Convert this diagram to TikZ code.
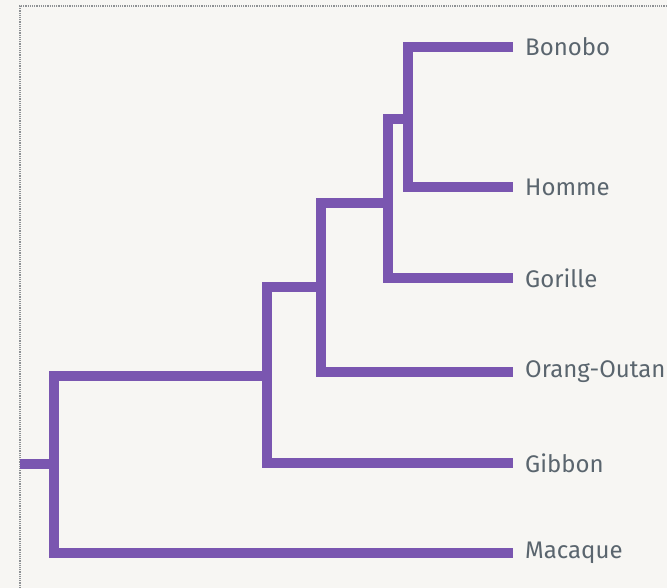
\documentclass[tikz,border=0pt]{standalone}
\usepackage{fontspec}
\setmainfont{Fira Sans}
\definecolor{branch}{HTML}{7A56B0}
\definecolor{labelgray}{HTML}{5A656E}
\definecolor{paper}{HTML}{F7F6F3}
\definecolor{frame}{HTML}{8E9194}
\begin{document}
\begin{tikzpicture}[x=1pt,y=-1pt,
  branchline/.style={draw=branch,line width=10pt,line cap=butt,line join=miter},
  taxon/.style={anchor=west,text=labelgray,font=\fontsize{24}{26}\selectfont,inner sep=0pt}]
  % page and frame
  \fill[paper] (0,0) rectangle (667,588);
  \useasboundingbox (0,0) rectangle (667,588);
  \draw[frame,line width=1.2pt,densely dotted] (20,588) -- (20,6) -- (667,6);

  % leaf tips (right ends of branches)
  \coordinate (tBonobo) at (513,47);
  \coordinate (tHomme) at (513,187);
  \coordinate (tGorille) at (513,278);
  \coordinate (tOrang) at (513,372);
  \coordinate (tGibbon) at (513,463);
  \coordinate (tMacaque) at (513,553);

  % internal nodes
  \coordinate (nBH) at (408,119);
  \coordinate (nBHG) at (388,203);
  \coordinate (nBHGO) at (321,287);
  \coordinate (nApes) at (267,376);
  \coordinate (root) at (54,464);
  \coordinate (rootStub) at (20,464);

  % labels
  \node[taxon] (lBonobo) at (525,47) {Bonobo};
  \node[taxon] (lHomme) at (525,187) {Homme};
  \node[taxon] (lGorille) at (525,278) {Gorille};
  \node[taxon] (lOrang) at (525,372) {Orang-Outan};
  \node[taxon] (lGibbon) at (525,463) {Gibbon};
  \node[taxon] (lMacaque) at (525,553) {Macaque};

  % branches
  \draw[branchline] (tBonobo) -- (tBonobo -| nBH) -- (tHomme -| nBH) -- (tHomme);
  \draw[branchline] (nBH) -- (nBH -| nBHG) -- (tGorille -| nBHG) -- (tGorille);
  \draw[branchline] (nBHG) -- (nBHG -| nBHGO) -- (tOrang -| nBHGO) -- (tOrang);
  \draw[branchline] (nBHGO) -- (nBHGO -| nApes) -- (tGibbon -| nApes) -- (tGibbon);
  \draw[branchline] (nApes) -- (nApes -| root) -- (tMacaque -| root) -- (tMacaque);
  \draw[branchline] (rootStub) -- (root);
\end{tikzpicture}
\end{document}
